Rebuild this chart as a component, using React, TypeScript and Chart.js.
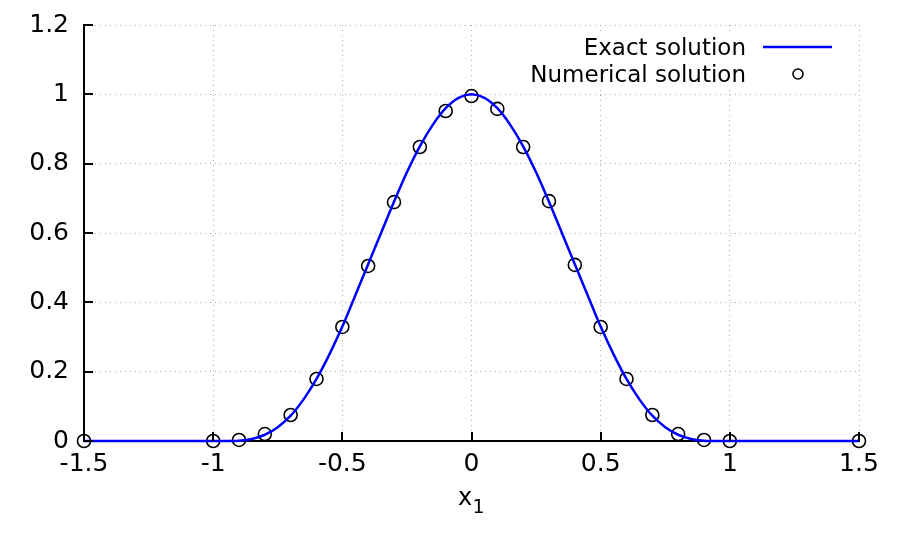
import React, { useEffect, useRef } from "react";
import { Chart, registerables } from "chart.js";

Chart.register(...registerables);

// Exact solution
const exactX = [-1.5, -1.0, -0.95, -0.9, -0.85, -0.8, -0.75, -0.7, -0.65, -0.6, -0.55, -0.5, -0.45, -0.4, -0.35, -0.3, -0.25, -0.2, -0.15, -0.1, -0.05, 0,
  0.05, 0.1, 0.15, 0.2, 0.25, 0.3, 0.35, 0.4, 0.45, 0.5, 0.55, 0.6, 0.65, 0.7, 0.75, 0.8, 0.85, 0.9, 0.95, 1.0, 1.5];
const exactY = [0, 0, 0, 0.001, 0.006, 0.018, 0.04, 0.073, 0.12, 0.179, 0.25, 0.33, 0.42, 0.51, 0.6, 0.69, 0.775, 0.85, 0.912, 0.96, 0.99, 1.0,
  0.99, 0.96, 0.912, 0.85, 0.775, 0.69, 0.6, 0.51, 0.42, 0.33, 0.25, 0.179, 0.12, 0.073, 0.04, 0.018, 0.006, 0.001, 0, 0, 0];

// Numerical solution (circles)
const numX = [-1.5, -1, -0.9, -0.8, -0.7, -0.6, -0.5, -0.4, -0.3, -0.2, -0.1, 0, 0.1, 0.2, 0.3, 0.4, 0.5, 0.6, 0.7, 0.8, 0.9, 1, 1.5];
const numY = [0, 0, 0.003, 0.02, 0.075, 0.179, 0.329, 0.505, 0.689, 0.848, 0.952, 0.995, 0.958, 0.848, 0.692, 0.508, 0.329, 0.179, 0.075, 0.02, 0.003, 0, 0];

const xTicks = [-1.5, -1, -0.5, 0, 0.5, 1, 1.5];
const xTickLabels = ["-1.5", "-1", "-0.5", "0", "0.5", "1", "1.5"];
const yTicks = [0, 0.2, 0.4, 0.6, 0.8, 1, 1.2];
const yTickLabels = ["0", "0.2", "0.4", "0.6", "0.8", "1", "1.2"];

const legendLabels = ["Exact solution", "Numerical solution"];
const xTitleMain = "x";
const xTitleSub = "1";

const FONT = "DejaVu Sans";
const FS = 23;
const TICK_FS = 25;

const overlayPlugin = {
  id: "overlay",
  beforeDatasetsDraw(chart: any) {
    const ctx = chart.ctx;
    ctx.save();
    ctx.fillStyle = "#ffffff";
    ctx.fillRect(515, 35, 335, 53);
    ctx.restore();
  },
  afterDraw(chart: any) {
    const ctx = chart.ctx;
    const area = chart.chartArea;
    const xs = chart.scales.x;
    const ys = chart.scales.y;
    ctx.save();
    ctx.strokeStyle = "#000000";
    ctx.lineWidth = 2;
    ctx.beginPath();
    xTicks.forEach((v) => {
      const px = Math.round(xs.getPixelForValue(v));
      ctx.moveTo(px, area.bottom);
      ctx.lineTo(px, area.bottom - 9);
    });
    yTicks.forEach((v) => {
      const py = Math.round(ys.getPixelForValue(v));
      ctx.moveTo(area.left, py);
      ctx.lineTo(area.left + 9, py);
    });
    ctx.stroke();

    // x-axis title with subscript
    ctx.fillStyle = "#000000";
    ctx.textBaseline = "alphabetic";
    ctx.textAlign = "left";
    ctx.font = `24px "${FONT}"`;
    const cx = (area.left + area.right) / 2;
    ctx.fillText(xTitleMain, cx - 13.5, 505);
    ctx.font = `19px "${FONT}"`;
    ctx.fillText(xTitleSub, cx + 1, 513);

    // legend
    ctx.font = `${FS}px "${FONT}"`;
    ctx.textAlign = "right";
    ctx.textBaseline = "middle";
    ctx.fillText(legendLabels[0], 746, 49);
    ctx.fillText(legendLabels[1], 746, 76);
    ctx.strokeStyle = "#0000ff";
    ctx.lineWidth = 2.5;
    ctx.beginPath();
    ctx.moveTo(763, 47);
    ctx.lineTo(832, 47);
    ctx.stroke();
    ctx.strokeStyle = "#000000";
    ctx.lineWidth = 1.6;
    ctx.beginPath();
    ctx.arc(798, 74, 5, 0, Math.PI * 2);
    ctx.stroke();
    ctx.restore();
  },
};

export default function App() {
  const ref = useRef<HTMLCanvasElement>(null);
  useEffect(() => {
    if (!ref.current) return;
    const chart = new Chart(ref.current, {
      type: "line",
      data: {
        datasets: [
          {
            label: legendLabels[0],
            data: exactX.map((x, i) => ({ x, y: exactY[i] })),
            borderColor: "#0000ff",
            borderWidth: 2.5,
            pointRadius: 0,
            cubicInterpolationMode: "monotone",
            fill: false,
            clip: false as any,
          },
          {
            label: legendLabels[1],
            data: numX.map((x, i) => ({ x, y: numY[i] })),
            showLine: false,
            pointStyle: "circle",
            pointRadius: 6.5,
            pointBorderWidth: 1.6,
            pointBorderColor: "#000000",
            pointBackgroundColor: "rgba(0,0,0,0)",
            borderColor: "#000000",
            backgroundColor: "rgba(0,0,0,0)",
            clip: false as any,
          },
        ],
      },
      options: {
        responsive: false,
        animation: false,
        layout: { padding: { top: 25, right: 40, left: 0, bottom: 0 } },
        plugins: {
          legend: { display: false },
          tooltip: { enabled: false },
        },
        scales: {
          x: {
            type: "linear",
            min: -1.5,
            max: 1.5,
            afterBuildTicks: (s: any) => {
              s.ticks = xTicks.map((v) => ({ value: v }));
            },
            afterFit: (s: any) => {
              s.height = 99;
              s.paddingLeft = 0;
              s.paddingRight = 0;
            },
            ticks: {
              padding: 8,
              color: "#000000",
              font: { family: FONT, size: TICK_FS },
              maxRotation: 0,
              autoSkip: false,
              callback: (v: any) => {
                const i = xTicks.indexOf(Number(v));
                return i >= 0 ? xTickLabels[i] : "";
              },
            },
            grid: {
              color: "#aaaaaa",
              lineWidth: 1,
              drawTicks: false,
            },
            border: { display: true, color: "#000000", width: 2, dash: [1, 4] },
            title: { display: false },
          },
          y: {
            type: "linear",
            min: 0,
            max: 1.2,
            afterBuildTicks: (s: any) => {
              s.ticks = yTicks.map((v) => ({ value: v }));
            },
            afterFit: (s: any) => {
              s.width = 84;
              s.paddingTop = 0;
              s.paddingBottom = 0;
            },
            ticks: {
              padding: 15,
              color: "#000000",
              font: { family: FONT, size: TICK_FS },
              autoSkip: false,
              callback: (v: any) => {
                const i = yTicks.findIndex((t) => Math.abs(t - Number(v)) < 1e-9);
                return i >= 0 ? yTickLabels[i] : "";
              },
            },
            grid: {
              color: "#aaaaaa",
              lineWidth: 1,
              drawTicks: false,
            },
            border: { display: true, color: "#000000", width: 2, dash: [1, 4] },
          },
        },
      },
      plugins: [overlayPlugin],
    });
    return () => chart.destroy();
  }, []);
  return (
    <div style={{ position: "fixed", left: 0, top: 0, width: 899, height: 540, background: "#ffffff" }}>
      <canvas ref={ref} width={899} height={540} />
    </div>
  );
}
